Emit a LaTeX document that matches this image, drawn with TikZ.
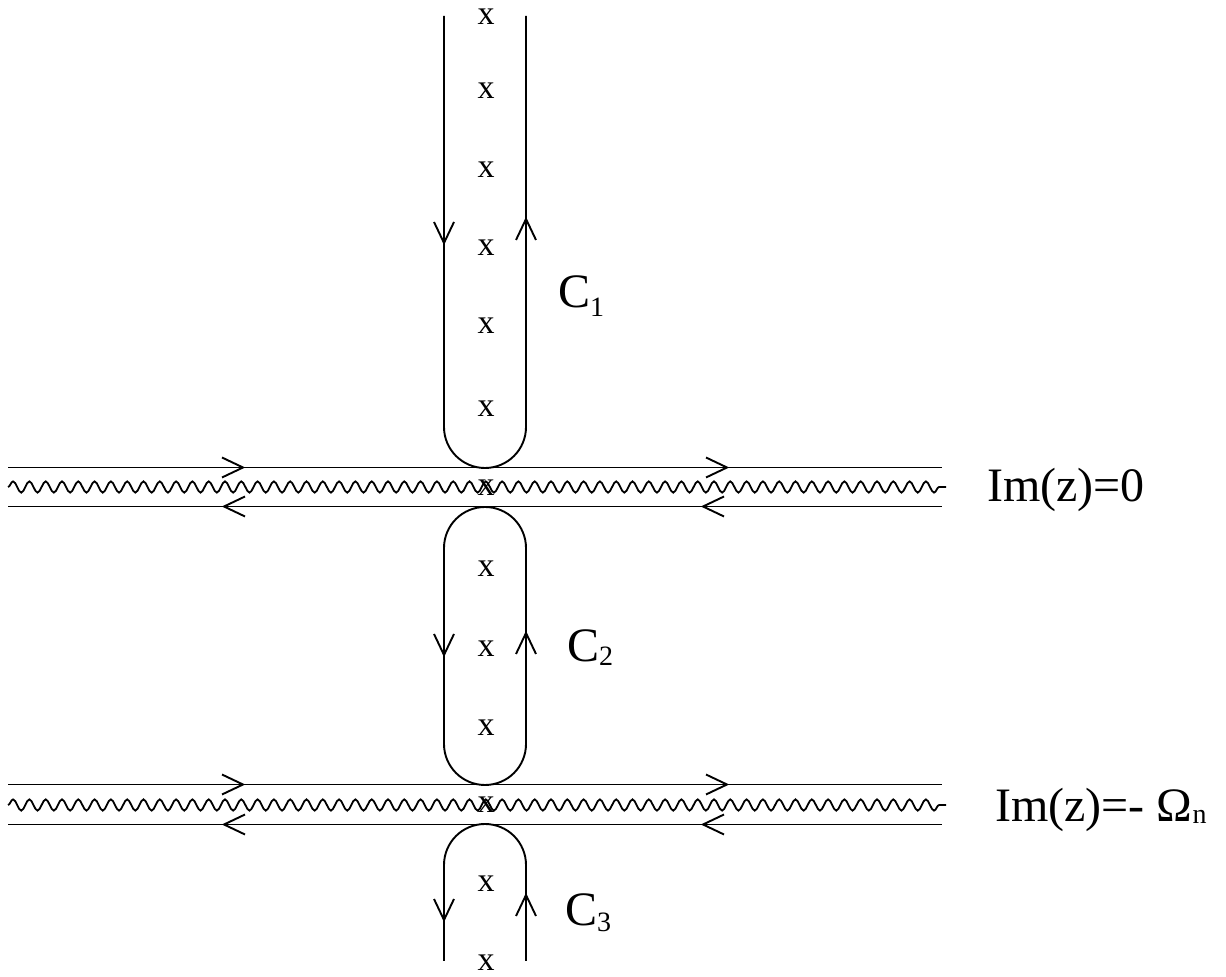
\documentclass[tikz,border=0pt]{standalone}
\usepackage{fontspec}
\setmainfont{Liberation Serif}
\usetikzlibrary{decorations.pathmorphing}
\newcommand\lowsub[2]{\raisebox{-#1}{\fontsize{28}{30}\selectfont #2}}
\begin{document}
\begin{tikzpicture}[x=1pt,y=1pt,
  contour/.style={line width=1.9pt},
  cut/.style={line width=1.8pt, decorate,
    decoration={snake, segment length=16.3pt, amplitude=5.6pt}},
  pole/.style={inner sep=0pt, font=\fontsize{34}{36}\selectfont},
  lbl/.style={inner sep=0pt, anchor=base west, font=\fontsize{48}{52}\selectfont},
  barb/.pic={\draw[line width=1.9pt] (-21,10) -- (0,0) -- (-21,-10);}
]
\useasboundingbox (0,0) rectangle (1226,977);

% branch cuts and contours along them
\coordinate (u1l) at (8,509.5);  \coordinate (u1r) at (942,509.5);
\coordinate (w1l) at (8,490);    \coordinate (w1r) at (946,490);
\coordinate (d1l) at (8,470.5);  \coordinate (d1r) at (942,470.5);
\coordinate (u2l) at (8,192.5);  \coordinate (u2r) at (942,192.5);
\coordinate (w2l) at (8,172);    \coordinate (w2r) at (946,172);
\coordinate (d2l) at (8,152.5);  \coordinate (d2r) at (942,152.5);

\draw[contour] (u1l) -- (u1r);
\draw[contour] (d1l) -- (d1r);
\draw[cut] (w1l) -- (w1r);
\draw[contour] (u2l) -- (u2r);
\draw[contour] (d2l) -- (d2r);
\draw[cut] (w2l) -- (w2r);

\pic at (243,509.5) {barb};
\pic at (727,509.5) {barb};
\pic[rotate=180] at (224,470.5) {barb};
\pic[rotate=180] at (703,470.5) {barb};
\pic at (243,192.5) {barb};
\pic at (727,192.5) {barb};
\pic[rotate=180] at (224,152.5) {barb};
\pic[rotate=180] at (703,152.5) {barb};

% C1
\draw[contour] (444,961) -- (444,550) arc (180:360:41) -- (526,961);
\pic[rotate=-90] at (444,734) {barb};
\pic[rotate=90] at (526,758) {barb};
% C2
\draw[contour] (444,429) arc (180:0:41) -- (526,233) arc (0:-180:41) -- cycle;
\pic[rotate=-90] at (444,322) {barb};
\pic[rotate=90] at (526,344) {barb};
% C3
\draw[contour] (444,16) -- (444,112) arc (180:0:41) -- (526,16);
\pic[rotate=-90] at (444,57) {barb};
\pic[rotate=90] at (526,82) {barb};

% poles
\node[pole] (p1) at (486,960) {x};
\node[pole] (p2) at (486,886) {x};
\node[pole] (p3) at (486,807) {x};
\node[pole] (p4) at (486,729) {x};
\node[pole] (p5) at (486,651) {x};
\node[pole] (p6) at (486,568) {x};
\node[pole] (p7) at (486,489) {x};
\node[pole] (p8) at (486,408) {x};
\node[pole] (p9) at (486,328) {x};
\node[pole] (p10) at (486,249) {x};
\node[pole] (p11) at (486,172) {x};
\node[pole] (p12) at (486,93) {x};
\node[pole] (p13) at (486,14) {x};

% labels
\node[lbl] (c1) at (558,669) {C\lowsub{9pt}{1}};
\node[lbl] (c2) at (567,315) {C\lowsub{4pt}{2}};
\node[lbl] (c3) at (565,51) {C\lowsub{6pt}{3}};
\node[lbl] (im0) at (987,475) {Im(z)=0};
\node[lbl] (im1) at (995,155) {Im(z)=- Ω\lowsub{2pt}{n}};
\end{tikzpicture}
\end{document}
